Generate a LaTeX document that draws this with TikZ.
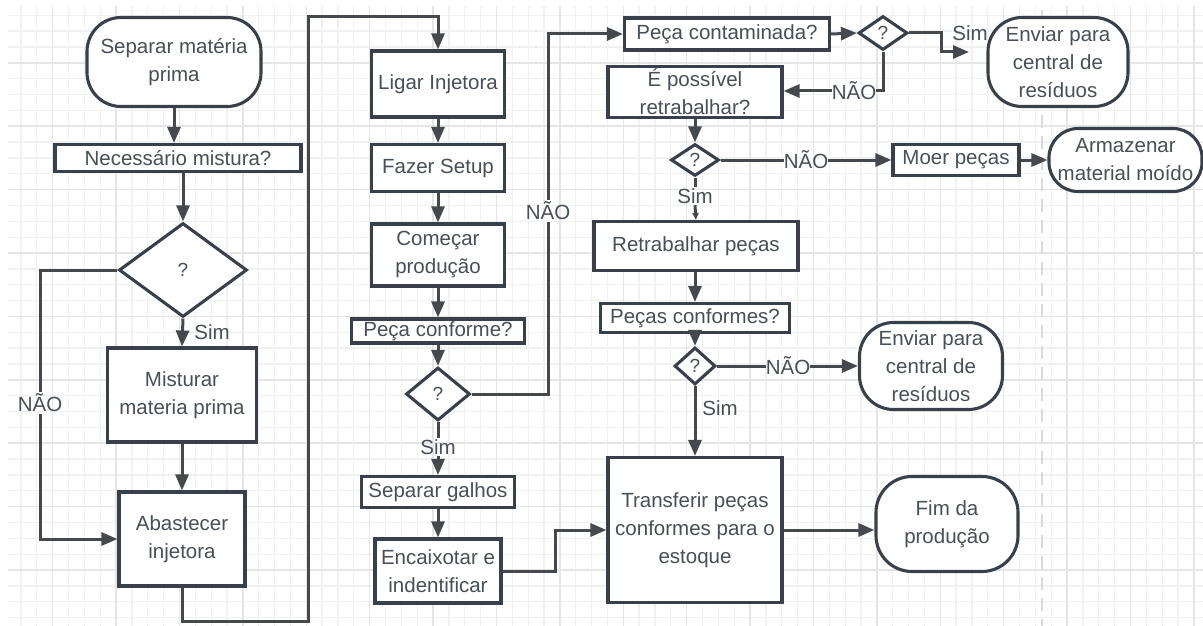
\documentclass[tikz,border=0pt]{standalone}
\usepackage{fontspec}
\setmainfont{Liberation Sans}
\usetikzlibrary{arrows.meta,shapes.geometric}
\definecolor{bd}{HTML}{38414B}
\definecolor{ln}{HTML}{45484C}
\definecolor{tx}{HTML}{474F58}
\definecolor{gmin}{HTML}{F1F1F1}
\definecolor{gmaj}{HTML}{E5E5E5}
\definecolor{dsh}{HTML}{DADADA}
\begin{document}
\begin{tikzpicture}[x=1pt,y=-1pt,
  font=\fontsize{20.5}{28}\selectfont,
  box/.style={draw=bd,line width=3.1pt,fill=white,text=tx,align=center,inner sep=0pt},
  term/.style={box,rounded corners=#1},
  dia/.style={box,diamond,font=\fontsize{19}{24}\selectfont},
  lab/.style={text=tx,inner sep=1.5pt},
  conn/.style={draw=ln,line width=3pt},
  arr/.style={conn,-{Triangle[length=16pt,width=13pt]}},
  sarr/.style={conn,-{Triangle[length=7pt,width=6pt]}},
]
\useasboundingbox (0,0) rectangle (1203,626);
% grid
\begin{scope}
\clip (8,7) rectangle (1203,626);
\foreach \i in {0,...,76} {
  \draw[gmin,line width=1.3pt] ({5.1+15.85*\i},0) -- ({5.1+15.85*\i},626);
}
\foreach \i in {0,...,40} {
  \draw[gmin,line width=1.3pt] (0,{-0.6+15.85*\i}) -- (1203,{-0.6+15.85*\i});
}
\foreach \i in {0,...,18} {
  \draw[gmaj,line width=1.5pt] ({52.7+63.4*\i},0) -- ({52.7+63.4*\i},626);
}
\foreach \i in {0,...,9} {
  \draw[gmaj,line width=1.5pt] (0,{-0.6+63.4*\i}) -- (1203,{-0.6+63.4*\i});
}
\end{scope}
\draw[dsh,line width=2.5pt,dash pattern=on 13pt off 8pt] (1042,10) -- (1042,626);

% nodes
\node[term=34pt,minimum width=174pt,minimum height=89pt] (sep) at (174,62) {Separar matéria\\prima};
\node[box,minimum width=246pt,minimum height=27pt] (nec) at (178,158) {Necessário mistura?};
\node[dia,minimum width=128pt,minimum height=94pt] (d1) at (183,270) {?};
\node[box,minimum width=149pt,minimum height=94pt] (mis) at (182,395) {Misturar\\materia prima};
\node[box,minimum width=126pt,minimum height=94pt] (aba) at (182,539) {Abastecer\\injetora};

\node[box,minimum width=133pt,minimum height=66pt] (lig) at (438,84) {Ligar Injetora};
\node[box,minimum width=133pt,minimum height=47pt] (faz) at (438,168) {Fazer Setup};
\node[box,minimum width=133pt,minimum height=62pt] (com) at (438,255) {Começar\\produção};
\node[box,minimum width=173pt,minimum height=24pt] (pc) at (438,331) {Peça conforme?};
\node[dia,minimum width=64pt,minimum height=53pt] (dm) at (438,394) {?};
\node[box,minimum width=153pt,minimum height=31pt] (sg) at (438,492) {Separar galhos};
\node[box,minimum width=126pt,minimum height=64pt] (enc) at (438,571) {Encaixotar e\\indentificar};

\node[box,minimum width=205pt,minimum height=32pt] (cont) at (727,34) {Peça contaminada?};
\node[dia,minimum width=49pt,minimum height=34pt] (dc) at (883,33) {?};
\node[term=34pt,minimum width=140pt,minimum height=89pt] (env1) at (1058,62) {Enviar para\\central de\\resíduos};
\node[box,minimum width=174pt,minimum height=51pt] (epos) at (695,92) {É possível\\retrabalhar?};
\node[dia,minimum width=48pt,minimum height=32pt] (d2) at (695,160) {?};
\node[box,minimum width=126pt,minimum height=31pt] (moer) at (956,160) {Moer peças};
\node[term=29pt,minimum width=153pt,minimum height=63pt] (arm) at (1125.5,160) {Armazenar\\material moído};
\node[box,minimum width=204pt,minimum height=49pt] (ret) at (696,246) {Retrabalhar peças};
\node[box,minimum width=189pt,minimum height=29pt] (pcs) at (695,318) {Peças conformes?};
\node[dia,minimum width=41pt,minimum height=37pt] (d3) at (695,366) {?};
\node[term=34pt,minimum width=143pt,minimum height=87pt] (env2) at (931,366) {Enviar para\\central de\\resíduos};
\node[box,minimum width=174pt,minimum height=145pt] (tra) at (695,530) {Transferir peças\\conformes para o\\estoque};
\node[term=36pt,minimum width=142pt,minimum height=95pt] (fim) at (947,524) {Fim da\\produção};

% labels
\node[lab] (nao1) at (40,403) {NÃO};
\node[lab] (sim1) at (212,332) {Sim};
\node[lab] (nao2) at (548,211) {NÃO};
\node[lab] (sim2) at (438,447) {Sim};
\node[lab] (sim3) at (970,33) {Sim};
\node[lab,inner sep=0pt] (nao3) at (854,91) {NÃO};
\node[lab,inner sep=0pt] (nao4) at (806,160) {NÃO};
\node[lab] (sim4) at (695,196) {Sim};
\node[lab,inner sep=0pt] (nao5) at (788,366) {NÃO};
\node[lab] (sim5) at (720,408) {Sim};

% coordinates
\coordinate (c1) at (308,621);
\coordinate (c2) at (308,17);
\coordinate (k3) at (555,530);
\coordinate (k4) at (941,33);
\coordinate (e1) at (969,52);

% connectors
\draw[arr] (sep.south) -- (sep.south|-nec.north);
\draw[arr] (nec.south-|d1.north) -- (d1.north);
\draw[conn] (d1.west) -| (nao1.north);
\draw[arr] (nao1.south) |- (aba.west);
\draw[arr] (d1.south) -- (mis.north);
\draw[arr] (mis.south) -- (aba.north);
\draw[arr] (aba.south) |- (c1) -- (c2) -| (lig.north);
\draw[arr] (lig) -- (faz);
\draw[arr] (faz) -- (com);
\draw[arr] (com) -- (pc);
\draw[arr] (pc) -- (dm);
\draw[conn] (dm.east) -| (nao2.south);
\draw[arr] (nao2.north) |- (cont.west);
\draw[conn] (dm.south) -- (sim2.north);
\draw[arr] (sim2.south) -- (sg.north);
\draw[arr] (sg) -- (enc);
\draw[arr] (enc.east) -| (k3) -- (tra.west);
\draw[arr] (cont.east) -- (dc.west);
\draw[arr] (dc.east) -- (k4) |- (e1);
\draw[conn] (dc.south) |- (nao3.east);
\draw[arr] (nao3.west) -- (epos.east|-nao3.west);
\draw[arr] (epos.south-|d2.north) -- (d2.north);
\draw[conn] (d2.east) -- (nao4.west);
\draw[arr] (nao4.east) -- (moer.west);
\draw[arr] (moer.east) -- (arm.west);
\draw[conn] (d2.south) -- (sim4.north);
\draw[sarr] (sim4.south) -- (ret.north);
\draw[arr] (ret.south-|pcs.north) -- (pcs.north);
\draw[arr] (pcs) -- (d3);
\draw[conn] (d3.east) -- (nao5.west);
\draw[arr] (nao5.east) -- (env2.west);
\draw[arr] (d3.south) -- (tra.north);
\draw[arr] (tra.east) -- (tra.east-|fim.west);
\end{tikzpicture}
\end{document}
